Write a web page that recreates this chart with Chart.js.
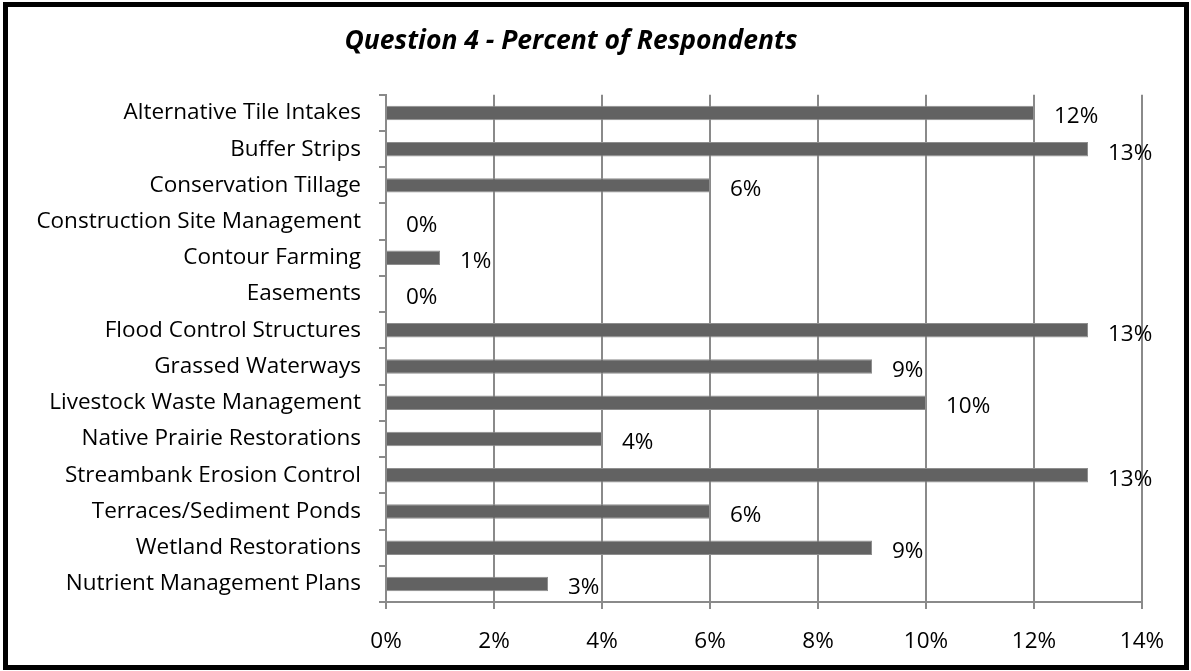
<!DOCTYPE html>
<html>
<head>
<meta charset="utf-8">
<script src="https://cdn.jsdelivr.net/npm/chart.js@4"></script>
<style>
  html, body { margin: 0; padding: 0; background: #fff; }
  #wrap { position: relative; width: 1191px; height: 671px; }
</style>
</head>
<body>
<div id="wrap"><canvas id="chart" width="1191" height="671"></canvas></div>
<script>
// categories (top to bottom)
var categories = [
    'Alternative Tile Intakes',
    'Buffer Strips',
    'Conservation Tillage',
    'Construction Site Management',
    'Contour Farming',
    'Easements',
    'Flood Control Structures',
    'Grassed Waterways',
    'Livestock Waste Management',
    'Native Prairie Restorations',
    'Streambank Erosion Control',
    'Terraces/Sediment Ponds',
    'Wetland Restorations',
    'Nutrient Management Plans'
];
// percent of respondents
var percents = [12, 13, 6, 0, 1, 0, 13, 9, 10, 4, 13, 6, 9, 3];
// x axis ticks
var xTicks = [0, 2, 4, 6, 8, 10, 12, 14];

var labelFont = '"Open Sans", "Lato", sans-serif';

//Draw the value next to each bar
var valueLabels = {
    id: 'valueLabels',
    afterDatasetsDraw: function(chart) {
        var ctx = chart.ctx;
        var meta = chart.getDatasetMeta(0);
        ctx.save();
        ctx.font = '22.5px ' + labelFont;
        ctx.fillStyle = '#000';
        ctx.textAlign = 'left';
        ctx.textBaseline = 'middle';
        meta.data.forEach(function(bar, i) {
            ctx.fillText(percents[i] + '%', bar.x + 20, bar.y + 4);
        });
        ctx.restore();
    }
};

//Thick black frame round the picture
var frame = {
    id: 'frame',
    afterDraw: function(chart) {
        var ctx = chart.ctx;
        ctx.save();
        ctx.strokeStyle = '#000';
        ctx.lineWidth = 5;
        ctx.strokeRect(5.5, 4.5, chart.width - 10, chart.height - 8);
        ctx.restore();
    }
};

var ctx = document.getElementById('chart').getContext('2d');
var chart = new Chart(ctx, {
    type: 'bar',
    data: {
        labels: categories,
        datasets: [{
            data: percents,
            backgroundColor: '#626262',
            borderColor: '#8e8e8e',
            borderWidth: 1,
            barPercentage: 0.4,
            categoryPercentage: 1
        }]
    },
    options: {
        indexAxis: 'y',
        responsive: false,
        animation: false,
        layout: { padding: { left: 0, right: 49, top: 0, bottom: 20 } },
        plugins: {
            legend: { display: false },
            tooltip: { enabled: false },
            title: {
                display: true,
                text: 'Question 4 - Percent of Respondents',
                color: '#000',
                font: { family: labelFont, size: 26.5, weight: 'bold', style: 'italic' },
                padding: { top: 26, bottom: 37 }
            }
        },
        scales: {
            x: {
                min: 0,
                max: 14,
                afterBuildTicks: function(scale) {
                    scale.ticks = xTicks.map(function(v) { return { value: v }; });
                },
                grid: { color: '#8a8a8a', lineWidth: 2, tickLength: 7, drawTicks: true },
                border: { color: '#8a8a8a', width: 2 },
                ticks: {
                    color: '#000',
                    padding: 19,
                    font: { family: labelFont, size: 22.5 },
                    callback: function(v) { return v + '%'; }
                },
                afterFit: function(scale) { scale.height = 49; }
            },
            y: {
                grid: { drawOnChartArea: false, color: '#8a8a8a', lineWidth: 2, tickLength: 7, offset: true },
                border: { color: '#8a8a8a', width: 2 },
                ticks: {
                    color: '#000',
                    padding: 18,
                    autoSkip: false,
                    font: { family: labelFont, size: 22.5 }
                },
                afterFit: function(scale) { scale.width = 386; }
            }
        }
    },
    plugins: [valueLabels, frame]
});
</script>
</body>
</html>
